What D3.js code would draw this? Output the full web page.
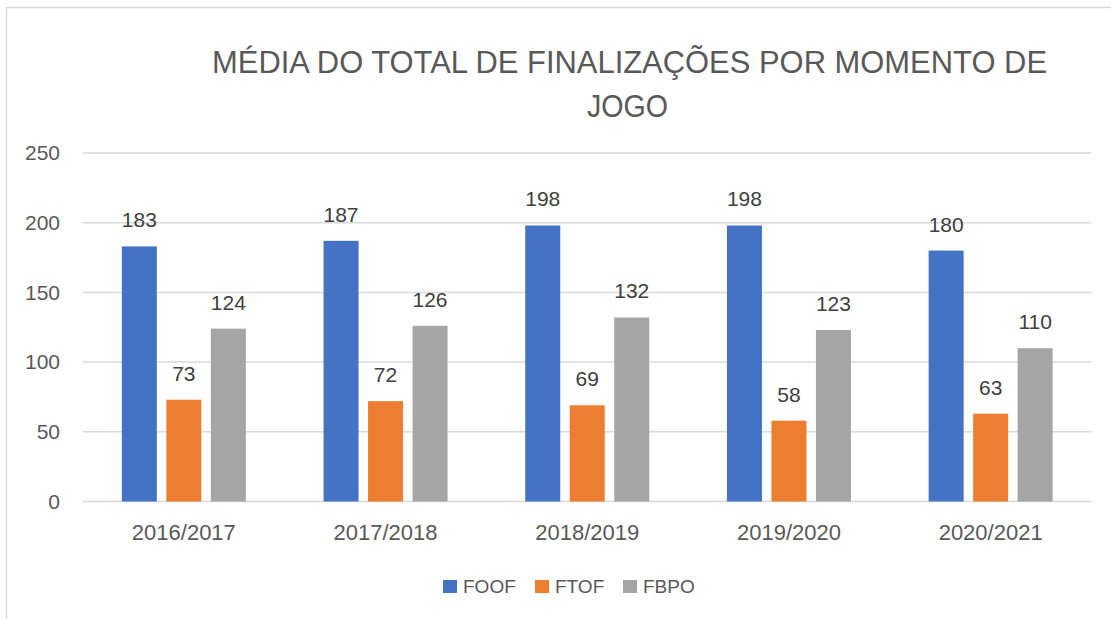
<!DOCTYPE html>
<html><head><meta charset="utf-8">
<script src="https://cdn.jsdelivr.net/npm/d3@7"></script>
<style>html,body{margin:0;padding:0;background:#fff;}svg{display:block;}</style>
</head><body>
<svg id="c" width="1111" height="619"></svg>
<script>
const categories = ["2016/2017","2017/2018","2018/2019","2019/2020","2020/2021"];
const seriesNames = ["FOOF","FTOF","FBPO"];
const FOOF = [183,187,198,198,180];
const FTOF = [73,72,69,58,63];
const FBPO = [124,126,132,123,110];
const yTicks = [0,50,100,150,200,250];
const colors = ["#4472C4","#ED7D31","#A5A5A5"];
const titleLines = ["MÉDIA DO TOTAL DE FINALIZAÇÕES POR MOMENTO DE","JOGO"];

(function(){
const series = [FOOF, FTOF, FBPO];
const svg = d3.select("#c");
const font = "'Liberation Sans', Arial, sans-serif";

// outer border
svg.append("rect").attr("x",6.5).attr("y",7.5).attr("width",1200).attr("height",700)
  .attr("fill","none").attr("stroke","#d9d9d9").attr("stroke-width",1.5);

const pLeft = 83, pRight = 1091.5, pTop = 153, pBottom = 501.5;
const x = d3.scaleBand().domain(categories).range([pLeft,pRight]).paddingInner(0).paddingOuter(0);
const y = d3.scaleLinear().domain([0,250]).range([pBottom,pTop]);

// title
svg.append("text").attr("x",629.5).attr("y",73).attr("text-anchor","middle")
  .attr("font-family",font).attr("font-size",32).attr("fill","#595959")
  .attr("textLength",835).attr("lengthAdjust","spacingAndGlyphs").text(titleLines[0]);
svg.append("text").attr("x",627.5).attr("y",117).attr("text-anchor","middle")
  .attr("font-family",font).attr("font-size",32).attr("fill","#595959")
  .attr("textLength",81).attr("lengthAdjust","spacingAndGlyphs").text(titleLines[1]);

// gridlines
svg.append("g").selectAll("line").data(yTicks).join("line")
  .attr("x1",pLeft).attr("x2",pRight).attr("y1",d=>y(d)).attr("y2",d=>y(d))
  .attr("stroke","#d9d9d9").attr("stroke-width",1.5);

// y tick labels
svg.append("g").selectAll("text").data(yTicks).join("text")
  .attr("x",60).attr("y",d=>y(d)).attr("dy","0.35em").attr("text-anchor","end")
  .attr("font-family",font).attr("font-size",21).attr("fill","#595959").text(d=>d);

// bars
const barW = 35, gap = 9.5;
const groupW = barW*3 + gap*2;
const gBars = svg.append("g");
series.forEach((vals, si) => {
  const bx = c => x(c) + x.bandwidth()/2 - groupW/2 + si*(barW+gap);
  gBars.append("g").selectAll("rect").data(categories).join("rect")
    .attr("x", (c)=>bx(c)).attr("width",barW)
    .attr("y",(c,i)=>y(vals[i])).attr("height",(c,i)=>pBottom - y(vals[i]))
    .attr("fill",colors[si]);
  gBars.append("g").selectAll("text").data(categories).join("text")
    .attr("x",(c)=>bx(c)+barW/2).attr("y",(c,i)=>y(vals[i]) - 19)
    .attr("text-anchor","middle").attr("font-family",font).attr("font-size",21)
    .attr("fill","#404040").text((c,i)=>vals[i]);
});

// category labels
svg.append("g").selectAll("text").data(categories).join("text")
  .attr("x",d=>x(d)+x.bandwidth()/2).attr("y",540).attr("text-anchor","middle")
  .attr("font-family",font).attr("font-size",22).attr("fill","#595959").text(d=>d);

// legend
const legX = [443,535,623];
const leg = svg.append("g");
seriesNames.forEach((n,i)=>{
  leg.append("rect").attr("x",legX[i]).attr("y",580).attr("width",14).attr("height",13).attr("fill",colors[i]);
  leg.append("text").attr("x",legX[i]+20).attr("y",593).attr("font-family",font)
    .attr("font-size",19).attr("fill","#595959").text(n);
});
})();
</script>
</body></html>
